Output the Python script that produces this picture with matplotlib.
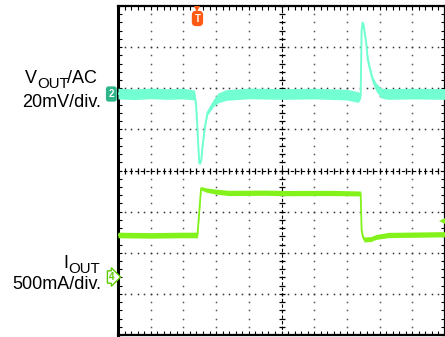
"""
Scope capture: load transient, VOUT (AC, 20mV/div) and IOUT (500mA/div)
"""

import matplotlib

matplotlib.use("Agg")
import matplotlib.pyplot as plt
import matplotlib.transforms as mtransforms
import numpy as np

plt.rcParams["font.family"] = ["Liberation Sans", "DejaVu Sans"]

# horizontal position in screen divisions (10 div across, 8 div high)
VOUT_T = [0.0, 0.5, 1.0, 1.5, 2.0, 2.342, 2.387, 2.432, 2.483, 2.547, 2.583,
          2.643, 2.733, 2.913, 3.063, 3.303, 4.0, 5.0, 6.0, 7.0, 7.35, 7.42,
          7.45, 7.48, 7.515, 7.545, 7.59, 7.64, 7.71, 7.79, 7.89, 8.04,
          8.25, 9.0, 10.0]
# VOUT, AC coupled, mV
VOUT_MV = [0.2, -0.1, 0.3, 0.0, 0.2, -0.5, -5.3, -17.5, -33.6, -32.1, -25.8,
           -17.5, -9.2, -4.4, -1.9, -0.5, 0.3, 0.0, 0.2, -0.3, -1.5, -1.0,
           31.1, 34.7, 33.1, 29.7, 24.8, 16.5, 11.7, 6.8, 3.4, 0.5,
           0.0, 0.2, 0.0]
# noise half-band, mV
VOUT_NOISE = [2.6, 2.6, 2.6, 2.6, 2.6, 2.4, 1.2, 1.0, 1.0, 1.0, 1.0,
              1.0, 1.2, 1.8, 2.4, 2.6, 2.6, 2.6, 2.6, 2.6, 2.6, 1.2,
              0.6, 0.6, 0.8, 1.0, 1.4, 1.6, 1.6, 1.6, 2.0, 2.4,
              2.6, 2.6, 2.6]

IOUT_T = [0.0, 1.0, 2.0, 2.43, 2.54, 2.69, 2.99, 3.38, 4.5, 5.165, 6.5,
          7.42, 7.45, 7.49, 7.53, 7.74, 7.89, 8.28, 9.069, 10.0]
# IOUT, mA
IOUT_MA = [511, 506, 511, 511, 1079, 1058, 1038, 1022, 1025, 1020, 1022,
           1016, 572, 487, 456, 462, 487, 511, 515, 520]
IOUT_NOISE = [34, 34, 34, 34, 20, 26, 30, 32, 32, 32, 32,
              30, 10, 26, 30, 30, 30, 32, 32, 32]

VOUT_SCALE = 20.0  # mV/div
IOUT_SCALE = 500.0  # mA/div
CH2_OFFSET = 1.86  # div
CH4_OFFSET = -2.59  # div
TRIG_TIME = 2.43  # div
TRIG_LEVEL = 681.0  # mA

VOUT_COLOR = "#72FFD2"
IOUT_COLOR = "#82F21A"

fig = plt.figure(figsize=(4.45, 3.37), dpi=100)
ax = fig.add_axes([118 / 445, 2 / 337, 327 / 445, 329 / 337])
ax.set_xlim(0, 327 / 33.3)
ax.set_ylim(-4, 4)

# dotted graticule, dot every 1/5 division
dots_x = np.arange(0, 10.01, 0.2)
dots_y = np.arange(-4, 4.01, 0.2)
for gx in [1, 2, 3, 4, 6, 7, 8, 9]:
    ax.plot(np.full_like(dots_y, gx), dots_y, ls="none", marker="s", ms=1.1,
            mew=0, color="#555555", zorder=1)
for gy in [-3, -2, -1, 1, 2, 3]:
    ax.plot(dots_x, np.full_like(dots_x, gy), ls="none", marker="s", ms=1.1,
            mew=0, color="#333333", zorder=1)

# centre cross with ticks
ax.axvline(5, color="black", lw=0.8, ls=(0, (3, 2)), zorder=1)
ax.axhline(0, color="black", lw=0.8, ls=(0, (3, 2)), zorder=1)
ax.plot(np.full_like(dots_y, 5), dots_y, ls="none", marker="_", ms=5,
        mew=0.9, color="black", zorder=1)
ax.plot(dots_x, np.zeros_like(dots_x), ls="none", marker="|", ms=5,
        mew=0.9, color="black", zorder=1)

# edge ticks
ax.set_xticks(np.arange(0, 10.01, 1))
ax.set_yticks(np.arange(-4, 4.01, 1))
ax.set_xticks(dots_x, minor=True)
ax.set_yticks(dots_y, minor=True)
ax.tick_params(which="both", direction="in", length=3, width=0.8,
               top=True, right=True, labelbottom=False, labelleft=False)
for side, lw in [("left", 2.2), ("top", 1.6), ("bottom", 1.6), ("right", 1.6)]:
    ax.spines[side].set_linewidth(lw)

# traces
t2 = np.array(VOUT_T)
y2 = CH2_OFFSET + np.array(VOUT_MV) / VOUT_SCALE
n2 = np.array(VOUT_NOISE) / VOUT_SCALE
ax.fill_between(t2, y2 - n2, y2 + n2, color=VOUT_COLOR, lw=0, zorder=3)
ax.plot(t2, y2, color=VOUT_COLOR, lw=1.4, zorder=3)

t4 = np.array(IOUT_T)
y4 = CH4_OFFSET + np.array(IOUT_MA) / IOUT_SCALE
n4 = np.array(IOUT_NOISE) / IOUT_SCALE
ax.fill_between(t4, y4 - n4, y4 + n4, color=IOUT_COLOR, lw=0, zorder=3)
ax.plot(t4, y4, color=IOUT_COLOR, lw=1.3, zorder=3)

# channel ground markers
edge = mtransforms.blended_transform_factory(ax.transAxes, ax.transData)
ax.text(-0.012, CH2_OFFSET, "2", transform=edge, ha="right", va="center",
        fontsize=7, fontweight="bold", color="white", clip_on=False,
        bbox=dict(boxstyle="round,pad=0.2,rounding_size=0.2", fc="#2FB58A",
                  ec="#2FB58A"))
ax.text(-0.012, CH4_OFFSET, "4", transform=edge, ha="right", va="center",
        fontsize=7, fontweight="bold", color="#5CCB00", clip_on=False,
        bbox=dict(boxstyle="rarrow,pad=0.12", fc="white", ec="#5CCB00",
                  lw=1.0))

# trigger position and level markers
top = mtransforms.blended_transform_factory(ax.transData, ax.transAxes)
ax.plot([TRIG_TIME], [0.99], transform=top, marker="v", ms=5, mew=0,
        color="#FF5A14", clip_on=False, zorder=5)
ax.text(TRIG_TIME, 0.962, "T", transform=top, ha="center", va="center",
        fontsize=7, fontweight="bold", color="white", zorder=5,
        bbox=dict(boxstyle="round,pad=0.2,rounding_size=0.35",
                  fc="#FF5A14", ec="#FF5A14"))
ax.plot([0.995], [CH4_OFFSET + TRIG_LEVEL / IOUT_SCALE], transform=edge,
        marker="<", ms=6, mew=0, color=IOUT_COLOR, clip_on=False, zorder=5)


def label(x_px, y_px, s, size):
    fig.text(x_px / 445, 1 - y_px / 337, s, fontsize=size, ha="left",
             va="baseline")


label(25, 83, "V", 13)
label(37, 88, "OUT", 10.8)
label(67, 83, "/AC", 13)
fig.text(101 / 445, 1 - 107 / 337, "20mV/div.", fontsize=13, ha="right",
         va="baseline")

label(63, 268, "I", 13)
label(68, 273, "OUT", 10.8)
fig.text(101 / 445, 1 - 289 / 337, "500mA/div.", fontsize=13, ha="right",
         va="baseline")

fig.savefig("out.png", dpi=100)
